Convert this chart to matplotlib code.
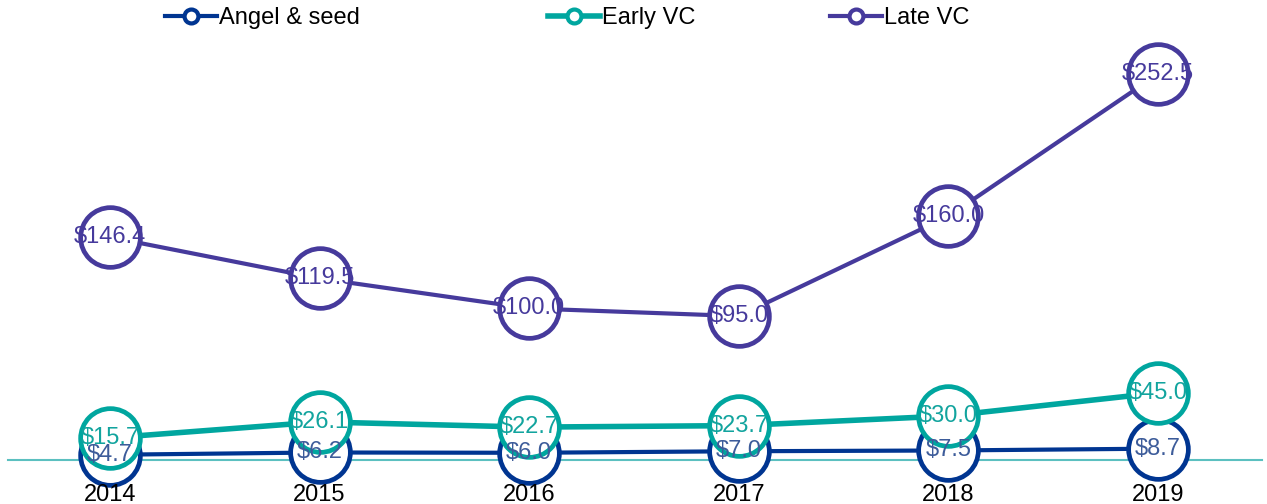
import matplotlib.pyplot as plt
import numpy as np
from matplotlib.lines import Line2D

years = ['2014', '2015', '2016', '2017', '2018', '2019']
angel_seed = [4.7, 6.2, 6.0, 7.0, 7.5, 8.7]
early_vc = [15.7, 26.1, 22.7, 23.7, 30.0, 45.0]
late_vc = [146.4, 119.5, 100.0, 95.0, 160.0, 252.5]

plt.rcParams['font.family'] = ['Liberation Sans', 'DejaVu Sans']

series = [
    ('Angel & seed', angel_seed, '#003591', '#3d5c9a', 3, 1),
    ('Late VC', late_vc, '#463a9c', '#463a9c', 3, 2),
    ('Early VC', early_vc, '#00a69f', '#12a49e', 4, 3),
]

fig = plt.figure(figsize=(12.67, 5.04), dpi=100)
ax = fig.add_axes([110 / 1267, (504 - 462) / 504, (1158 - 110) / 1267, (462 - 40) / 504])
x = np.arange(len(years))

for name, vals, col, tcol, lw, z in series:
    ax.plot(x, vals, color=col, lw=lw, marker='o', markersize=43,
            markerfacecolor='white', markeredgecolor=col, markeredgewidth=3.4,
            zorder=z, clip_on=False)
    for xi, v in zip(x, vals):
        ax.text(xi, v, '$%.1f' % v, ha='center', va='center', fontsize=17,
                color=tcol, zorder=10)

ax.set_xlim(0, len(years) - 1)
ax.set_ylim(0, (462 - 40) / 1.536)
ax.axhline(1.5, xmin=-102 / 1048, xmax=1 + 104 / 1048, color='#5bc0c0', lw=1.5,
           zorder=0.5, clip_on=False)
for s in ax.spines.values():
    s.set_visible(False)
ax.set_yticks([])
ax.set_xticks(x)
ax.set_xticklabels(years, fontsize=17)
ax.tick_params(axis='x', length=0, pad=16)

# one legend per entry so the gaps match the reference
leg_items = [('Angel & seed', '#003591', 3, 165), ('Early VC', '#00a69f', 4, 548),
             ('Late VC', '#463a9c', 3, 830)]
for name, c, w, px in leg_items:
    h = Line2D([0], [0], color=c, lw=w, marker='o', markersize=10, markerfacecolor='white',
               markeredgecolor=c, markeredgewidth=3)
    fig.legend([h], [name], loc='center left', bbox_to_anchor=(px / 1267, 1 - 18 / 504),
               frameon=False, fontsize=17, handlelength=2.2, handletextpad=0.1,
               borderpad=0, borderaxespad=0)

fig.savefig('out.png', dpi=100)
plt.close('all')
